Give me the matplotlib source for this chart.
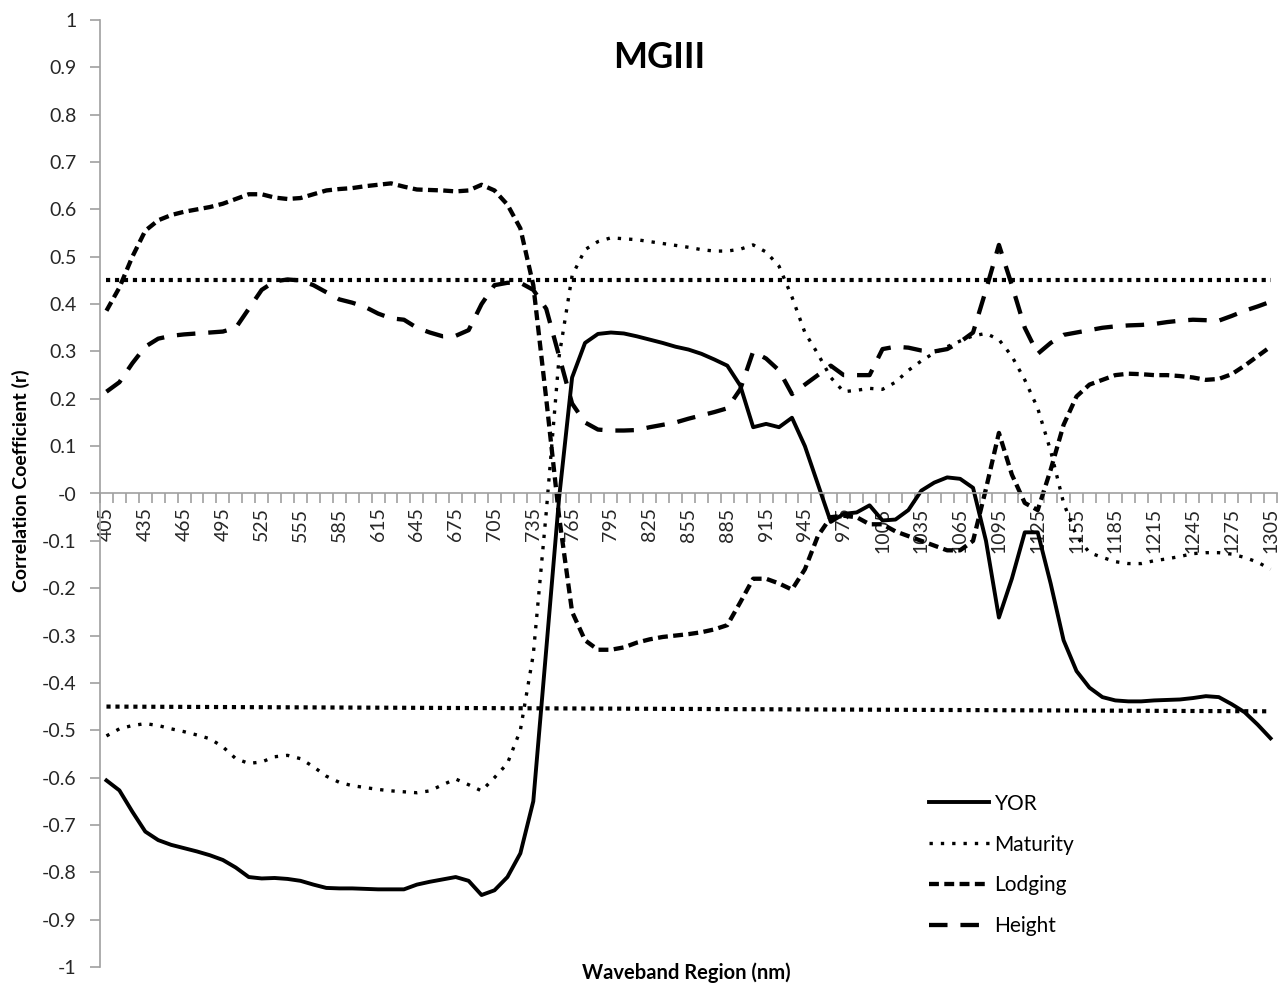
import numpy as np
import matplotlib.pyplot as plt

plt.rcParams['font.family'] = ['Lato', 'DejaVu Sans']

# --- data ---
wavelengths = list(range(405, 1306, 10))

yor = [-0.606, -0.627, -0.672, -0.714, -0.732, -0.742, -0.749, -0.756, -0.764, -0.774,
       -0.790, -0.810, -0.813, -0.812, -0.814, -0.818, -0.826, -0.833, -0.834, -0.834,
       -0.835, -0.836, -0.836, -0.836, -0.826, -0.820, -0.815, -0.810, -0.818, -0.848,
       -0.838, -0.810, -0.760, -0.650, -0.330, -0.008, 0.245, 0.318, 0.337, 0.340,
       0.338, 0.332, 0.325, 0.318, 0.310, 0.304, 0.295, 0.283, 0.270, 0.228,
       0.140, 0.147, 0.140, 0.160, 0.100, 0.020, -0.060, -0.043, -0.040, -0.025,
       -0.057, -0.055, -0.035, 0.006, 0.023, 0.034, 0.031, 0.012, -0.100, -0.262,
       -0.180, -0.082, -0.082, -0.190, -0.310, -0.375, -0.410, -0.430, -0.437, -0.439,
       -0.439, -0.437, -0.436, -0.435, -0.432, -0.428, -0.430, -0.445, -0.462, -0.488,
       -0.517]

maturity = [-0.512, -0.497, -0.490, -0.486, -0.490, -0.497, -0.503, -0.510, -0.518, -0.535,
            -0.560, -0.570, -0.567, -0.556, -0.553, -0.560, -0.577, -0.597, -0.610, -0.617,
            -0.621, -0.625, -0.628, -0.630, -0.632, -0.628, -0.615, -0.603, -0.615, -0.628,
            -0.600, -0.570, -0.500, -0.340, -0.040, 0.290, 0.460, 0.515, 0.532, 0.540,
            0.538, 0.536, 0.532, 0.528, 0.524, 0.520, 0.515, 0.512, 0.512, 0.516,
            0.525, 0.510, 0.480, 0.415, 0.340, 0.295, 0.245, 0.215, 0.218, 0.222,
            0.220, 0.235, 0.260, 0.280, 0.297, 0.310, 0.322, 0.333, 0.338, 0.325,
            0.290, 0.240, 0.180, 0.090, -0.020, -0.090, -0.125, -0.135, -0.144, -0.148,
            -0.148, -0.142, -0.138, -0.133, -0.127, -0.125, -0.125, -0.128, -0.135, -0.145,
            -0.160]

lodging = [0.386, 0.435, 0.500, 0.555, 0.577, 0.588, 0.595, 0.600, 0.605, 0.612,
           0.622, 0.632, 0.632, 0.625, 0.622, 0.624, 0.632, 0.640, 0.643, 0.645,
           0.649, 0.652, 0.655, 0.648, 0.642, 0.641, 0.640, 0.638, 0.640, 0.652,
           0.640, 0.610, 0.560, 0.440, 0.200, -0.050, -0.250, -0.310, -0.330, -0.330,
           -0.325, -0.315, -0.308, -0.303, -0.300, -0.297, -0.293, -0.287, -0.278, -0.230,
           -0.180, -0.180, -0.190, -0.203, -0.160, -0.090, -0.050, -0.047, -0.050, -0.065,
           -0.065, -0.080, -0.090, -0.100, -0.110, -0.120, -0.120, -0.100, 0.010, 0.128,
           0.040, -0.020, -0.035, 0.050, 0.145, 0.205, 0.230, 0.240, 0.250, 0.253,
           0.252, 0.250, 0.250, 0.248, 0.245, 0.240, 0.242, 0.252, 0.270, 0.290,
           0.310]

height = [0.215, 0.235, 0.275, 0.310, 0.327, 0.333, 0.336, 0.338, 0.340, 0.342,
          0.350, 0.390, 0.430, 0.448, 0.452, 0.450, 0.440, 0.425, 0.410, 0.403,
          0.394, 0.380, 0.370, 0.367, 0.350, 0.340, 0.332, 0.333, 0.345, 0.400,
          0.440, 0.445, 0.445, 0.430, 0.390, 0.290, 0.190, 0.150, 0.135, 0.133,
          0.133, 0.134, 0.140, 0.145, 0.150, 0.158, 0.165, 0.172, 0.180, 0.220,
          0.300, 0.285, 0.260, 0.210, 0.230, 0.250, 0.270, 0.250, 0.250, 0.250,
          0.305, 0.310, 0.308, 0.302, 0.300, 0.305, 0.320, 0.340, 0.430, 0.525,
          0.440, 0.350, 0.295, 0.318, 0.335, 0.340, 0.345, 0.350, 0.353, 0.355,
          0.356, 0.358, 0.362, 0.365, 0.367, 0.366, 0.365, 0.375, 0.386, 0.395,
          0.405]

# significance thresholds (start, end)
thr_upper = [0.45, 0.45]
thr_lower = [-0.45, -0.46]

GRAY = '#a0a0a0'

fig = plt.figure(figsize=(12.8, 9.88), dpi=100)
ax = fig.add_axes([100 / 1280, 21 / 988, 1177 / 1280, 947 / 988])

x = np.arange(len(wavelengths))
ax.plot(x, yor, color='black', lw=2.8, solid_joinstyle='round', label='YOR')
ax.plot(x, maturity, color='black', lw=2.4, linestyle=(0, (1, 2.4)), label='Maturity')
ax.plot(x, lodging, color='black', lw=3.1, linestyle=(0, (2.3, 1.25)), label='Lodging')
ax.plot(x, height, color='black', lw=3.1, linestyle=(0, (4.3, 3.0)), label='Height')

ends = [x[0], x[-1]]
ax.plot(ends, thr_upper, color='black', lw=3.0, linestyle=(0, (1, 1.15)))
ax.plot(ends, thr_lower, color='black', lw=3.0, linestyle=(0, (1, 1.15)))

ax.set_xlim(-0.5, len(x) - 0.5)
ax.set_ylim(-1, 1)

for side in ['top', 'right']:
    ax.spines[side].set_visible(False)
ax.spines['bottom'].set_position(('data', 0))
ax.spines['bottom'].set_color(GRAY)
ax.spines['left'].set_color(GRAY)
ax.spines['bottom'].set_linewidth(1.2)
ax.spines['left'].set_linewidth(1.2)

yt = np.round(np.arange(-1, 1.001, 0.1), 1)
ax.set_yticks(yt)
ax.set_yticklabels([f'{v:g}' for v in yt])
ax.tick_params(axis='y', length=7, width=1.2, color=GRAY, pad=10, labelsize=14,
               labelcolor='#262626')

ax.set_xticks(x[::3])
ax.set_xticklabels([str(w) for w in wavelengths[::3]], rotation=90)
ax.set_xticks(np.arange(-0.5, len(x)), minor=True)
ax.tick_params(axis='x', which='major', length=0, pad=10, labelsize=14,
               labelcolor='#262626')
ax.tick_params(axis='x', which='minor', length=7, width=1.2, color=GRAY, direction='out')

fig.text(659 / 1280, 1 - 58 / 988, 'MGIII', ha='center', va='center',
         fontsize=26, fontweight='bold')
fig.text(21 / 1280, 1 - 481 / 988, 'Correlation Coefficient (r)', ha='center',
         va='center', rotation=90, fontsize=14, fontweight='bold')
fig.text(686 / 1280, 1 - 973 / 988, 'Waveband Region (nm)', ha='center',
         va='center', fontsize=14.5, fontweight='bold')

ax.legend(loc='center left', bbox_to_anchor=(929 / 1280, 1 - 865 / 988),
          bbox_transform=fig.transFigure, frameon=False, fontsize=15,
          handlelength=2.9, handletextpad=0.25, labelspacing=1.0,
          borderpad=0, borderaxespad=0)

fig.savefig('out.png', dpi=100)
